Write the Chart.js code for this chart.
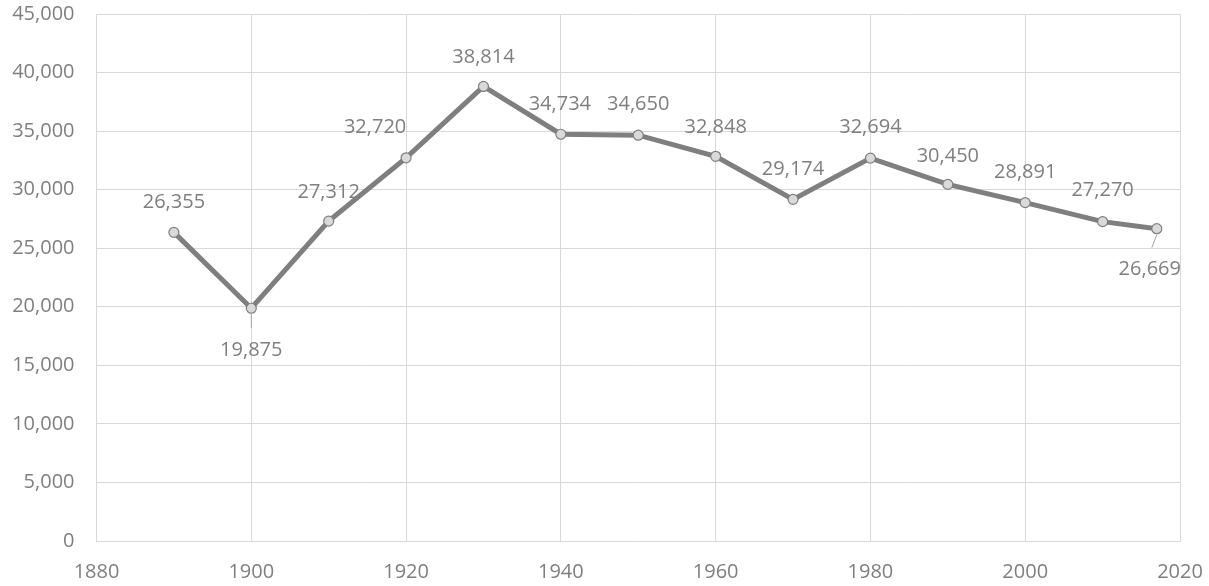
<!DOCTYPE html>
<html><head><meta charset="utf-8">
<script src="https://cdn.jsdelivr.net/npm/chart.js@4/dist/chart.umd.min.js"></script>
<style>html,body{margin:0;padding:0;background:#fff}#wrap{width:1209px;height:586px}</style>
</head><body><div id="wrap"><canvas id="c" width="1209" height="586"></canvas></div>
<script>
const years = [1890,1900,1910,1920,1930,1940,1950,1960,1970,1980,1990,2000,2010,2017];
const population = [26355,19875,27312,32720,38814,34734,34650,32848,29174,32694,30450,28891,27270,26669];
const xTicks = [1880,1900,1920,1940,1960,1980,2000,2020];
const yTicks = [0,5000,10000,15000,20000,25000,30000,35000,40000,45000];

// label offsets (style only): [dx, dy, leader]
const labelOffsets = [[0,-30],[0,42,true],[0,-29],[-31,-31],[0,-29],[-1,-30],[0,-31],[0,-29],[0,-30],[0,-31],[0,-28],[0,-30],[0,-31],[-7,41,true]];

const fmt = v => v.toLocaleString('en-US');
const FONT = '"Open Sans", "Noto Sans", sans-serif';
const FS = 20;

const labelPlugin = {
  id:'labels',
  afterDatasetsDraw(chart){
    const ctx = chart.ctx;
    const meta = chart.getDatasetMeta(0);
    ctx.save();
    ctx.font = FS + 'px ' + FONT;
    ctx.fillStyle = '#7f7f7f';
    ctx.textAlign = 'center';
    ctx.textBaseline = 'middle';
    meta.data.forEach((pt,i)=>{
      const o = labelOffsets[i];
      const lx = pt.x + o[0], ly = pt.y + o[1];
      if(o[2]){
        ctx.strokeStyle = '#a6a6a6';
        ctx.lineWidth = 1;
        ctx.beginPath();
        ctx.moveTo(pt.x, pt.y + 6);
        ctx.lineTo(lx + (pt.x-lx)*0.3, ly - 22);
        ctx.stroke();
      }
      ctx.fillText(fmt(population[i]), lx, ly);
    });
    ctx.restore();
  }
};

function zeroPad(s){s.paddingTop=0;s.paddingBottom=0;s.paddingLeft=0;s.paddingRight=0;}

new Chart(document.getElementById('c'), {
  type:'line',
  data:{datasets:[{
    data: years.map((y,i)=>({x:y,y:population[i]})),
    borderColor:'#7f7f7f', borderWidth:5,
    pointRadius:5, pointBackgroundColor:'#d9d9d9', pointBorderColor:'#7f7f7f', pointBorderWidth:1.2,
    tension:0, clip:false
  }]},
  options:{
    responsive:false, animation:false,
    layout:{padding:{top:14,right:29,left:0,bottom:0}},
    plugins:{legend:{display:false},tooltip:{enabled:false}},
    scales:{
      x:{type:'linear',min:1880,max:2020,
        afterBuildTicks(s){s.ticks = xTicks.map(v=>({value:v}));},
        afterFit(s){s.height=45;zeroPad(s);},
        grid:{color:'#d9d9d9',lineWidth:1,drawTicks:false},
        border:{color:'#d9d9d9'},
        ticks:{color:'#7f7f7f',font:{family:FONT,size:FS},padding:19,maxRotation:0,callback:v=>String(v)}
      },
      y:{min:0,max:45000,
        afterBuildTicks(s){s.ticks = yTicks.map(v=>({value:v}));},
        afterFit(s){s.width=96.5;zeroPad(s);},
        grid:{color:'#d9d9d9',lineWidth:1,drawTicks:false},
        border:{color:'#d9d9d9'},
        ticks:{color:'#7f7f7f',font:{family:FONT,size:FS},padding:22,callback:v=>fmt(v)}
      }
    }
  },
  plugins:[labelPlugin]
});
</script></body></html>
